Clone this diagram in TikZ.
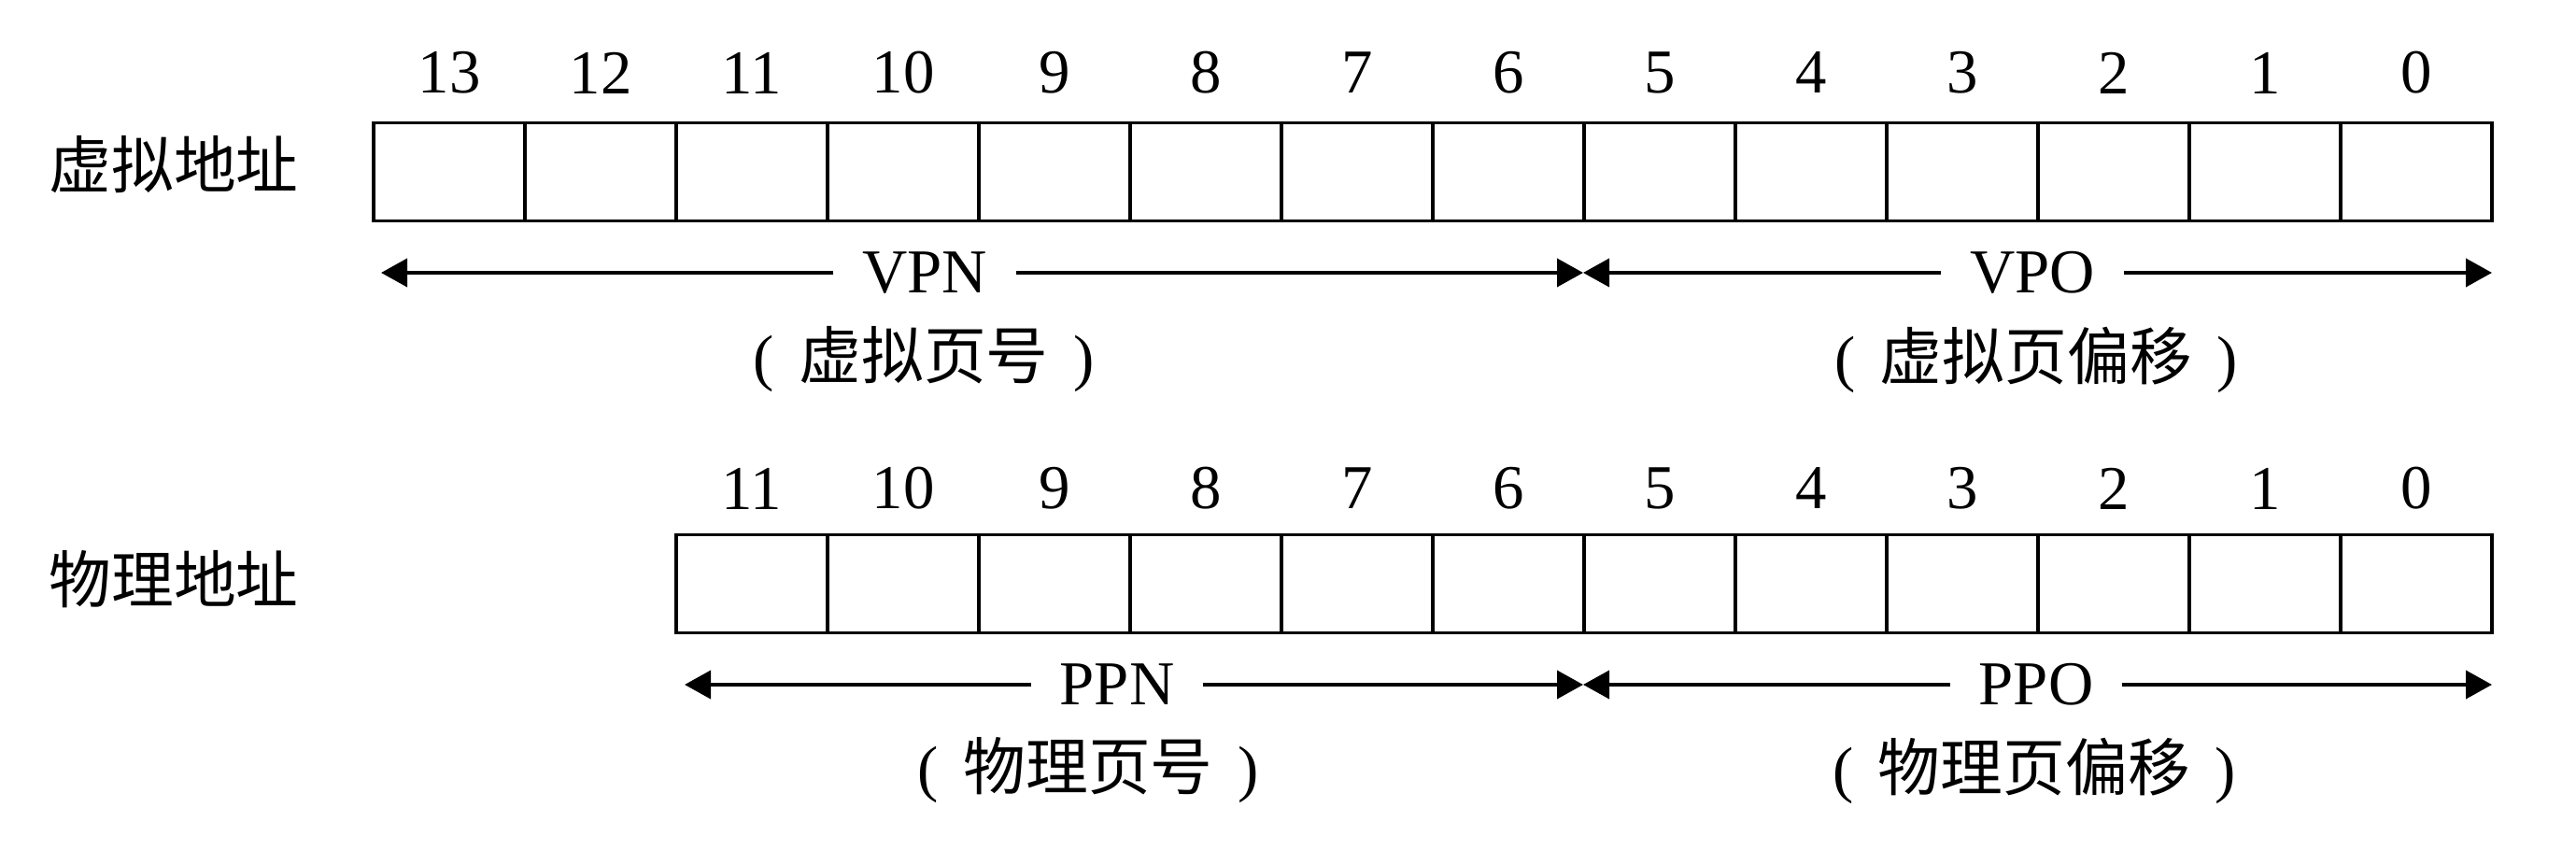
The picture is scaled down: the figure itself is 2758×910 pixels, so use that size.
\documentclass[tikz,border=0pt]{standalone}
\usepackage{fontspec}
\setmainfont{Liberation Serif}
\newfontfamily\cjk{Noto Sans CJK SC}
\usetikzlibrary{arrows.meta}
\begin{document}
\begin{tikzpicture}[x=0.01cm, y=-0.01cm,
			cell/.style = {draw, line width=1.1pt, minimum width=1.62cm, minimum height=1.05cm, inner sep=0pt},
			bitnum/.style = {font=\fontsize{19}{22}\selectfont},
			field/.style = {font=\fontsize{19}{22}\selectfont, inner xsep=0.3cm},
			sub/.style = {font=\fontsize{19}{22}\selectfont},
			addr/.style = {font=\cjk\fontsize{19}{23}\selectfont},
			span/.style = {line width=1.1pt, -{Triangle[length=0.28cm, width=0.3cm]}}]
			\useasboundingbox (0,0) rectangle (2758,910);
			\foreach \i in {0,...,13} {
				\node[cell] (v\i) at ({2587-162*\i}, 184) {};
				\node[bitnum] (vn\i) at ({2587-162*\i}, 78) {\i};
			}
			\foreach \i in {0,...,11} {
				\node[cell] (p\i) at ({2587-162*\i}, 625) {};
				\node[bitnum] (pn\i) at ({2587-162*\i}, 523) {\i};
			}
			\node[addr] (vaddr) at (186, 176) {虚拟地址};
			\node[addr] (paddr) at (186, 620) {物理地址};
			\coordinate (vpnL) at (408, 292);
			\coordinate (vmid) at (1695, 292);
			\coordinate (vpoR) at (2668, 292);
			\node[field] (vpn) at (990, 292) {VPN};
			\node[field] (vpo) at (2176, 292) {VPO};
			\draw[span] (vpn) -- (vpnL);
			\draw[span] (vpn) -- (vmid);
			\draw[span] (vpo) -- (vmid);
			\draw[span] (vpo) -- (vpoR);
			\node[sub] (vpnsub) at (989, 385) {(\hspace{0.4em}{\cjk 虚拟页号}\hspace{0.4em})};
			\node[sub] (vposub) at (2180, 385) {(\hspace{0.4em}{\cjk 虚拟页偏移}\hspace{0.4em})};
			\coordinate (ppnL) at (733, 733);
			\coordinate (pmid) at (1695, 733);
			\coordinate (ppoR) at (2668, 733);
			\node[field] (ppn) at (1196, 733) {PPN};
			\node[field] (ppo) at (2180, 733) {PPO};
			\draw[span] (ppn) -- (ppnL);
			\draw[span] (ppn) -- (pmid);
			\draw[span] (ppo) -- (pmid);
			\draw[span] (ppo) -- (ppoR);
			\node[sub] (ppnsub) at (1165, 825) {(\hspace{0.4em}{\cjk 物理页号}\hspace{0.4em})};
			\node[sub] (pposub) at (2178, 825) {(\hspace{0.4em}{\cjk 物理页偏移}\hspace{0.4em})};
		\end{tikzpicture}
\end{document}
